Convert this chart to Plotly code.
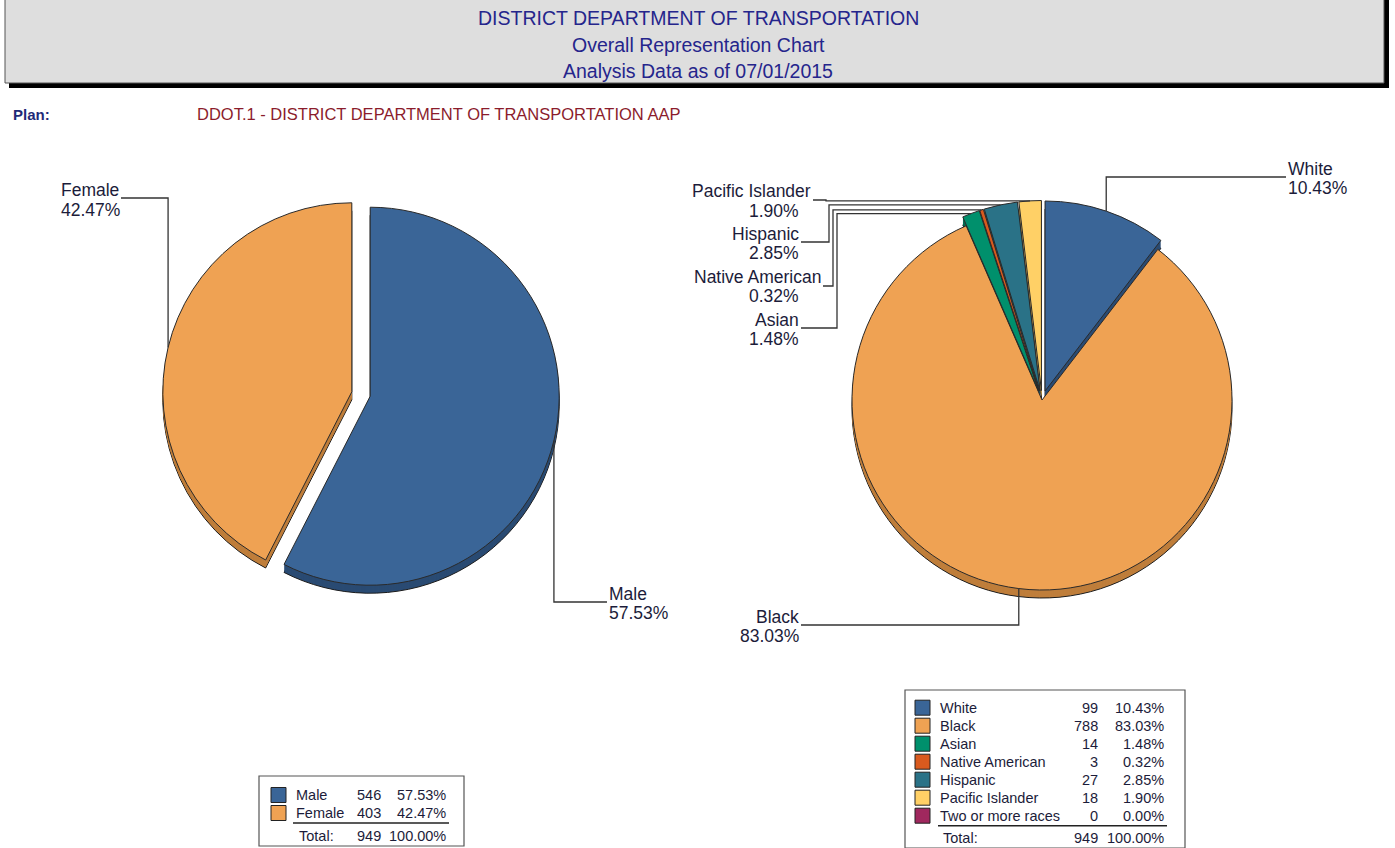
import math
import plotly.graph_objects as go

W, H = 1395, 848

# ---------------- data ----------------
title_lines = ["DISTRICT DEPARTMENT OF TRANSPORTATION",
               "Overall Representation Chart",
               "Analysis Data as of 07/01/2015"]
plan_label = "Plan:"
plan_text = "DDOT.1 - DISTRICT DEPARTMENT OF TRANSPORTATION AAP"

gender_labels = ["Male", "Female"]
gender_counts = [546, 403]
gender_colors = ["#3A6597", "#EFA253"]
gender_sides = ["#2A4B73", "#BF7E3B"]
gender_pull = [0.05, 0.05]

race_labels = ["White", "Black", "Asian", "Native American", "Hispanic",
               "Pacific Islander", "Two or more races"]
race_counts = [99, 788, 14, 3, 27, 18, 0]
race_colors = ["#3A6597", "#EFA253", "#00906C", "#D95A1E", "#2A7287",
               "#FFD066", "#A0285E"]
race_sides = ["#2A4B73", "#BF7E3B", "#006B50", "#A84414", "#1D5566",
              "#C9A04C", "#761C45"]
race_pull = [0.05, 0.0, 0.05, 0.05, 0.05, 0.05, 0.0]

total_label = "Total:"

FONT = "Liberation Sans, Arial, sans-serif"
TXT = "#1c1c3a"
LINE = "#333333"
LAB_SIZE = 17.5
LEG_SIZE = 14.5


def pct(c, tot):
    return f"{100 * c / tot:.2f}%"


def X(px):
    return px / W


def Y(py):
    return 1 - py / H


fig = go.Figure()
shapes = []
annos = []


def text(x, y, s, size, color=TXT, anchor="left", valign="middle"):
    annos.append(dict(x=X(x), y=Y(y), xref="paper", yref="paper", text=s,
                      showarrow=False, xanchor=anchor, yanchor=valign,
                      font=dict(family=FONT, size=size, color=color),
                      borderpad=0))


# ---------------- header ----------------
shapes.append(dict(type="rect", xref="paper", yref="paper",
                   x0=X(9), x1=X(1389), y0=Y(-6), y1=Y(88),
                   fillcolor="#000000", line=dict(width=0), layer="below"))
shapes.append(dict(type="rect", xref="paper", yref="paper",
                   x0=X(5), x1=X(1384), y0=Y(-10), y1=Y(83),
                   fillcolor="#DEDEDE", line=dict(color="#555555", width=1),
                   layer="below"))
for s, yy in zip(title_lines, [18, 45, 71]):
    text(698, yy, s, 19.5, color="#25258C", anchor="center")

text(12, 114, "<b>" + plan_label + "</b>", 15, color="#1F2A78")
text(196, 114, plan_text, 16.5, color="#8B1C2C")


# ---------------- pies ----------------
def add_pie(cx, cy, r, labels, values, colors, sides, pulls, depth=8):
    keep = [i for i, v in enumerate(values) if v > 0]
    lab = [labels[i] for i in keep]
    val = [values[i] for i in keep]
    col = [colors[i] for i in keep]
    sid = [sides[i] for i in keep]
    pul = [pulls[i] for i in keep]
    half = r * (1 + max(pul))
    for k in range(depth, 0, -1):
        fig.add_trace(go.Pie(
            labels=lab, values=val, pull=pul, sort=False,
            direction="clockwise", rotation=0,
            marker=dict(colors=sid, line=dict(color="#1a1a1a",
                                              width=1 if k == depth else 0)),
            textinfo="none", hoverinfo="skip", showlegend=False,
            domain=dict(x=[X(cx - half), X(cx + half)],
                        y=[Y(cy + k + half), Y(cy + k - half)])))
    fig.add_trace(go.Pie(
        labels=lab, values=val, pull=pul, sort=False,
        direction="clockwise", rotation=0,
        marker=dict(colors=col, line=dict(color="#2a2a2a", width=1)),
        textinfo="none", hoverinfo="skip", showlegend=False,
        domain=dict(x=[X(cx - half), X(cx + half)],
                    y=[Y(cy + half), Y(cy - half)])))


def arc_point(cx, cy, r, values, pulls, idx):
    tot = sum(values)
    cum = sum(values[:idx])
    th = 2 * math.pi * (cum + values[idx] / 2) / tot
    rr = r * (1 + pulls[idx])
    return cx + rr * math.sin(th), cy - rr * math.cos(th)


def leader(pt, line_y, end_x, elbow_x=None):
    x0, y0 = pt
    if elbow_x is None:
        pts = [(x0, y0), (x0, line_y), (end_x, line_y)]
    else:
        pts = [(x0, y0), (elbow_x, y0), (elbow_x, line_y), (end_x, line_y)]
    path = "M " + " L ".join(f"{X(a):.6f},{Y(b):.6f}" for a, b in pts)
    shapes.append(dict(type="path", xref="paper", yref="paper", path=path,
                       line=dict(color=LINE, width=1.3), layer="above"))


LCX, LCY, LR = 361, 394, 189
RCX, RCY, RR = 1042, 400, 190

add_pie(LCX, LCY, LR, gender_labels, gender_counts, gender_colors,
        gender_sides, gender_pull)
add_pie(RCX, RCY, RR, race_labels, race_counts, race_colors,
        race_sides, race_pull)

g_tot = sum(gender_counts)
r_tot = sum(race_counts)

# label layout: idx -> (anchor, name_x, name_y, pct_x, pct_y, line_y, end_x, elbow_x)
gender_lab_pos = {
    0: ("left", 608, 594, 608, 613, 602, 607, None),
    1: ("left", 60, 190, 60, 210, 198, 121, None),
}
race_lab_pos = {
    0: ("left", 1287, 169, 1287, 188, 177, 1286, None),
    1: ("right", 800, 617, 800, 636, 625, 801, None),
    2: ("right", 800, 320, 800, 339, 328, 801, 837),
    3: ("right", 822, 277, 800, 296, 286, 823, 833),
    4: ("right", 800, 234, 800, 253, 242, 801, 829),
    5: ("right", 812, 191, 800, 211, 200, 813, 826),
}

for i, p in gender_lab_pos.items():
    anc, nx, ny, qx, qy, ly, ex, el = p
    leader(arc_point(LCX, LCY, LR, gender_counts, gender_pull, i), ly, ex, el)
    text(nx, ny, gender_labels[i], LAB_SIZE, anchor=anc)
    text(qx, qy, pct(gender_counts[i], g_tot), LAB_SIZE, anchor=anc)

for i, p in race_lab_pos.items():
    anc, nx, ny, qx, qy, ly, ex, el = p
    leader(arc_point(RCX, RCY, RR, race_counts, race_pull, i), ly, ex, el)
    text(nx, ny, race_labels[i], LAB_SIZE, anchor=anc)
    text(qx, qy, pct(race_counts[i], r_tot), LAB_SIZE, anchor=anc)


# ---------------- legend tables ----------------
def table(box, row0, step, sq_x, name_x, cnt_x, pct_x, rule_x, labels,
          counts, colors):
    bx0, by0, bx1, by1 = box
    shapes.append(dict(type="rect", xref="paper", yref="paper",
                       x0=X(bx0), x1=X(bx1), y0=Y(by1), y1=Y(by0),
                       fillcolor="white", line=dict(color="#555555", width=1.2)))
    tot = sum(counts)
    for j, (lab, c, col) in enumerate(zip(labels, counts, colors)):
        yy = row0 + j * step
        shapes.append(dict(type="rect", xref="paper", yref="paper",
                           x0=X(sq_x), x1=X(sq_x + 15),
                           y0=Y(yy + 7.5), y1=Y(yy - 7.5),
                           fillcolor=col, line=dict(color="#222222", width=1)))
        text(name_x, yy, lab, LEG_SIZE)
        text(cnt_x, yy, str(c), LEG_SIZE, anchor="right")
        text(pct_x, yy, pct(c, tot), LEG_SIZE, anchor="right")
    ry = row0 + len(labels) * step - 8
    shapes.append(dict(type="line", xref="paper", yref="paper",
                       x0=X(rule_x[0]), x1=X(rule_x[1]), y0=Y(ry), y1=Y(ry),
                       line=dict(color="#222222", width=1.6)))
    ty = ry + 12.5
    text(name_x + 3, ty, total_label, LEG_SIZE)
    text(cnt_x, ty, str(tot), LEG_SIZE, anchor="right")
    text(pct_x, ty, pct(tot, tot), LEG_SIZE, anchor="right")


table((259, 776, 464, 846), 795, 18, 271, 295, 382, 447, (293, 449),
      gender_labels, gender_counts, gender_colors)
table((905, 690, 1185, 848), 707.7, 18, 915, 939, 1099, 1165, (938, 1167),
      race_labels, race_counts, race_colors)

fig.update_layout(width=W, height=H, margin=dict(l=0, r=0, t=0, b=0),
                  paper_bgcolor="white", plot_bgcolor="white",
                  showlegend=False, shapes=shapes, annotations=annos)

# remove the browser's default body margin so the figure fills the window
fig.write_html("out.html",
               config={"displayModeBar": False},
               post_script="document.body.style.margin='0px';"
                           "document.body.style.overflow='hidden';")
